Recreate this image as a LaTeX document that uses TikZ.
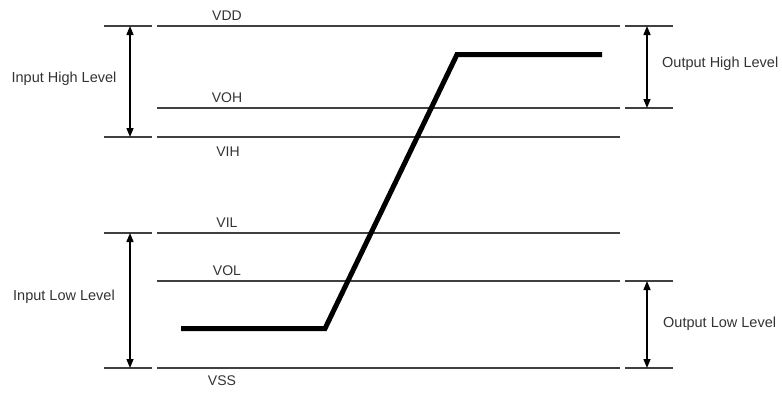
\documentclass[tikz,border=0pt]{standalone}
\usepackage{fontspec}
\setmainfont{Liberation Sans}
\usetikzlibrary{arrows.meta}
\begin{document}
\begin{tikzpicture}[x=1pt,y=-1pt,
  level/.style={draw=black!75,line width=1.1pt},
  curve/.style={draw=black,line width=5pt,line join=miter},
  dim/.style={draw=black,line width=1.4pt,{Triangle[width=7pt,length=9pt]}-{Triangle[width=7pt,length=9pt]}},
  lbl/.style={font=\fontsize{14}{16}\selectfont,text=black!80,inner sep=0pt},
  side/.style={font=\fontsize{14.5}{17}\selectfont,text=black!80,inner sep=0pt}]
\useasboundingbox (0,0) rectangle (782,392);
% level lines
\foreach \n/\y in {VDD/26,VOH/108,VIH/137,VIL/233,VOL/281,VSS/368}{
  \coordinate (\n-a) at (157,\y);
  \coordinate (\n-b) at (620,\y);
  \draw[level] (\n-a) -- (\n-b);
}
% left ticks
\foreach \n/\y in {VDD/26,VIH/137,VIL/233,VSS/368}{
  \coordinate (\n-la) at (104,\y);
  \coordinate (\n-lb) at (152,\y);
  \coordinate (\n-l) at (130,\y);
  \draw[level] (\n-la) -- (\n-lb);
}
% right ticks
\foreach \n/\y in {VDD/26,VOH/108,VOL/281,VSS/368}{
  \coordinate (\n-ra) at (625,\y);
  \coordinate (\n-rb) at (673,\y);
  \coordinate (\n-r) at (647,\y);
  \draw[level] (\n-ra) -- (\n-rb);
}
% level labels
\node[lbl] (tVDD) at (227,16) {VDD};
\node[lbl] (tVOH) at (227,98) {VOH};
\node[lbl] (tVIH) at (228,152) {VIH};
\node[lbl] (tVIL) at (227,223) {VIL};
\node[lbl] (tVOL) at (227,271) {VOL};
\node[lbl] (tVSS) at (222,381) {VSS};
% dimension arrows
\draw[dim] (VDD-l) -- (VIH-l);
\draw[dim] (VIL-l) -- (VSS-l);
\draw[dim] (VDD-r) -- (VOH-r);
\draw[dim] (VOL-r) -- (VSS-r);
\node[side] (ihl) at (64,79) {Input High Level};
\node[side] (ill) at (64,297) {Input Low Level};
\node[side,anchor=west] (ohl) at (662,64) {Output High Level};
\node[side,anchor=west] (oll) at (663,324) {Output Low Level};
% transfer curve
\coordinate (c1) at (181,328.5);
\coordinate (c2) at (325,328.5);
\coordinate (c3) at (457,54.5);
\coordinate (c4) at (602,54.5);
\draw[curve] (c1) -- (c2) -- (c3) -- (c4);
\end{tikzpicture}
\end{document}
